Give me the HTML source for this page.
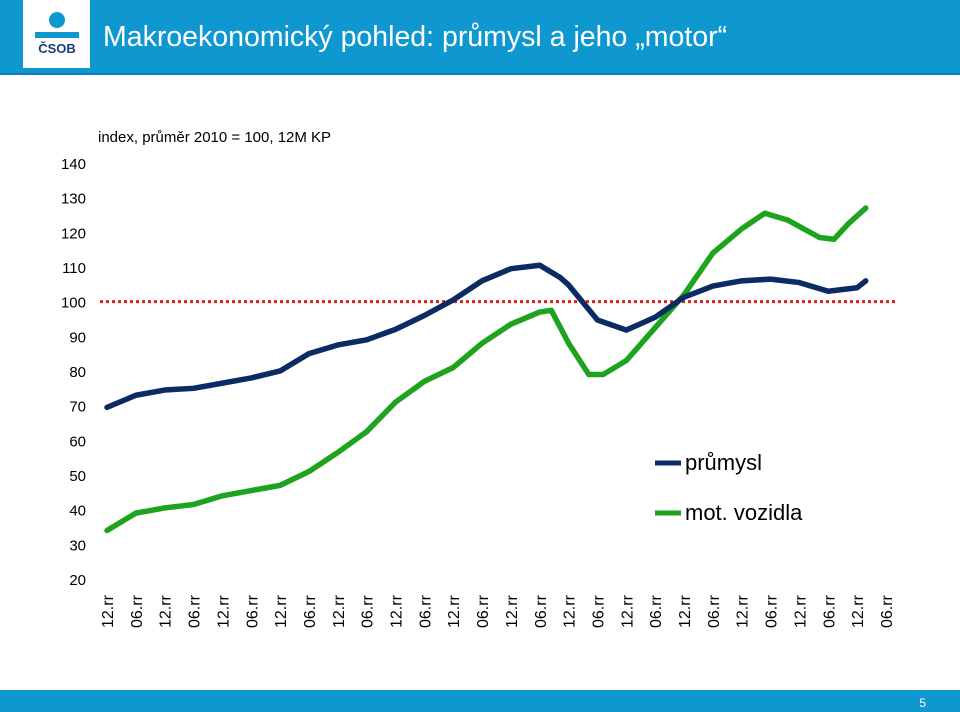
<!DOCTYPE html>
<html><head><meta charset="utf-8"><style>
body{margin:0;width:960px;height:712px;overflow:hidden;background:#fff;font-family:"Liberation Sans",Arial,sans-serif;position:relative}
#hdr{position:absolute;left:0;top:0;width:960px;height:73px;background:#0f97cf;border-bottom:2px solid #0a80b5}
#logo{position:absolute;left:23px;top:0;width:67px;height:68px;background:#fff}
#title{position:absolute;left:103px;top:21px;color:#fff;font-size:28.5px;white-space:nowrap}
#foot{position:absolute;left:0;top:690px;width:960px;height:22px;background:#0f97cf}
#pg{position:absolute;right:34px;top:696px;color:#fff;font-size:12px}
svg{position:absolute;left:0;top:0}
</style></head><body>
<div id="hdr"></div>
<div id="logo">
<svg width="67" height="68" viewBox="0 0 67 68"><circle cx="34" cy="20" r="8" fill="#0f97cf"/><path d="M12 32 H56 V38 H12Z" fill="#0f97cf"/><text x="34" y="53" text-anchor="middle" font-size="13" font-weight="bold" fill="#1a3d7c" font-family="Liberation Sans">ČSOB</text></svg>
</div>
<div id="title">Makroekonomický pohled: průmysl a jeho „motor“</div>
<svg id="chart" width="960" height="712"></svg>
<div id="foot"></div>
<div id="pg">5</div>
<script>
const xLabels=["12.rr","06.rr","12.rr","06.rr","12.rr","06.rr","12.rr","06.rr","12.rr","06.rr","12.rr","06.rr","12.rr","06.rr","12.rr","06.rr","12.rr","06.rr","12.rr","06.rr","12.rr","06.rr","12.rr","06.rr","12.rr","06.rr","12.rr","06.rr"];
const yTicks=[20,30,40,50,60,70,80,90,100,110,120,130,140];
const indT=[0,1,2,3,4,5,6,7,8,9,10,11,12,13,14,15,15.7,16,17,18,19,20,21,22,23,24,25,26,26.3];
const indV=[69.5,73,74.5,75,76.5,78,80,85,87.5,89,92,96,100.5,106,109.5,110.5,107,104.8,94.7,91.8,95.5,101.3,104.5,106,106.5,105.5,103,104,106];
const carT=[0,1,2,3,4,5,6,7,8,9,10,11,12,13,14,15,15.4,16,16.7,17.2,18,19,20,21,22,22.8,23.6,24.7,25.2,25.7,26.3];
const carV=[34,39,40.5,41.5,44,45.5,47,51,56.5,62.5,71,77,81,88,93.5,97,97.5,88,79,79,83,92.5,102,114,121,125.5,123.5,118.5,118,122.5,127];
const svg=document.getElementById('chart');const NS='http://www.w3.org/2000/svg';
const X=t=>107+t*28.85, Y=v=>579-(v-20)*3.467;
function el(tag,a,txt){const e=document.createElementNS(NS,tag);for(const k in a)e.setAttribute(k,a[k]);if(txt!==undefined)e.textContent=txt;svg.appendChild(e);return e;}
yTicks.forEach(v=>{const t=el('text',{x:86,y:Y(v)+6,'text-anchor':'end','font-size':15,fill:'#000'},v);

});
xLabels.forEach((l,i)=>{const x=X(i)+6;const t=el('text',{x:x,y:628,transform:`rotate(-90 ${x} 628)`,'font-size':16,fill:'#000'},l);

});
const ann=el('text',{x:98,y:142,'font-size':15,fill:'#000'},'index, průměr 2010 = 100, 12M KP');


const ref=el('line',{x1:100,x2:897,y1:Y(100),y2:Y(100),stroke:'#e0201b','stroke-width':3,'stroke-dasharray':'3,3'});


function line(T,V,c,n){const p=el('polyline',{points:T.map((t,i)=>X(t)+','+Y(V[i])).join(' '),fill:'none',stroke:c,'stroke-width':5.5,'stroke-linejoin':'round','stroke-linecap':'round'});

}
line(carT,carV,'#1ea31e','series-mot-vozidla');
line(indT,indV,'#0c2a63','series-prumysl');
[['průmysl','#0c2a63',463],['mot. vozidla','#1ea31e',513]].forEach(([t,c,y])=>{
const l=el('line',{x1:655,x2:681,y1:y,y2:y,stroke:c,'stroke-width':5});


const tx=el('text',{x:685,y:y+7,'font-size':22,fill:'#000'},t);

});
</script>
</body></html>
